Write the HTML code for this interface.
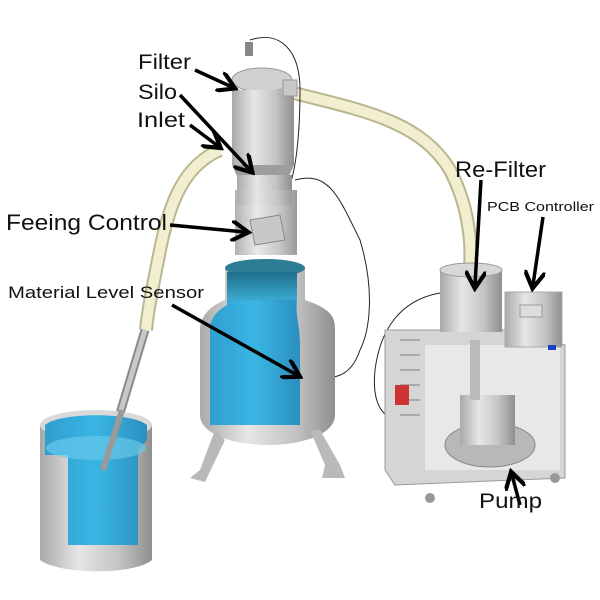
<!DOCTYPE html>
<html><head><meta charset="utf-8"><style>
html,body{margin:0;padding:0;background:#fff;}
svg{display:block;}
text{font-family:"Liberation Sans",sans-serif;fill:#111;}
</style></head><body>
<svg width="600" height="600" viewBox="0 0 600 600" xmlns="http://www.w3.org/2000/svg">
<defs>
<linearGradient id="metal" x1="0" x2="1" y1="0" y2="0">
<stop offset="0" stop-color="#a9a9a9"/><stop offset="0.35" stop-color="#e6e6e6"/><stop offset="0.7" stop-color="#c4c4c4"/><stop offset="1" stop-color="#8f8f8f"/></linearGradient>
<linearGradient id="blue" x1="0" x2="1" y1="0" y2="0">
<stop offset="0" stop-color="#2f9fd0"/><stop offset="0.5" stop-color="#3bb6e4"/><stop offset="1" stop-color="#2a8fbf"/></linearGradient>
<linearGradient id="bluev" x1="0" x2="0" y1="0" y2="1">
<stop offset="0" stop-color="#1f6f8a"/><stop offset="1" stop-color="#3aa9cf"/></linearGradient>
<marker id="ah" markerWidth="6" markerHeight="6" refX="4" refY="3" orient="auto" markerUnits="strokeWidth">
<path d="M0,0 L5,3 L0,6" fill="none" stroke="#000" stroke-width="1.2"/></marker>
</defs>

<path d="M290,92 C360,110 420,120 450,170 C468,205 472,240 470,268" fill="none" stroke="#b9b690" stroke-width="14"/>
<path d="M290,92 C360,110 420,120 450,170 C468,205 472,240 470,268" fill="none" stroke="#f1efcf" stroke-width="10"/>
<path d="M220,150 C185,165 170,200 160,250 C152,290 148,310 146,330" fill="none" stroke="#b9b690" stroke-width="14"/>
<path d="M220,150 C185,165 170,200 160,250 C152,290 148,310 146,330" fill="none" stroke="#f1efcf" stroke-width="10"/>
<line x1="145" y1="330" x2="103" y2="470" stroke="#8a8a8a" stroke-width="9"/>
<line x1="145" y1="330" x2="103" y2="470" stroke="#c8c8c8" stroke-width="5"/>

<path d="M295,180 C330,170 340,200 360,240 C375,290 370,330 360,350 C350,380 330,380 310,375" fill="none" stroke="#222" stroke-width="1"/>
<path d="M250,40 C280,30 300,50 300,90 C300,140 295,170 290,185" fill="none" stroke="#222" stroke-width="1"/>
<path d="M440,293 C400,300 380,330 375,370 C372,400 380,415 395,420" fill="none" stroke="#222" stroke-width="1"/>

<rect x="245" y="42" width="8" height="14" fill="#888"/>
<ellipse cx="262" cy="80" rx="30" ry="12" fill="#d0d0d0" stroke="#999"/>
<rect x="232" y="90" width="62" height="75" fill="url(#metal)"/>
<path d="M232,165 L294,165 L285,185 L241,185 Z" fill="#9d9d9d"/>
<rect x="237" y="175" width="55" height="30" fill="url(#metal)"/>
<rect x="235" y="190" width="62" height="65" fill="url(#metal)" opacity="0.9"/>
<path d="M250,220 L280,215 L285,240 L255,245 Z" fill="#c8c8c8" stroke="#888"/>
<rect x="283" y="80" width="14" height="16" fill="#c8c8c8" stroke="#999"/>

<path d="M225,268 L305,268 L305,300 C335,310 335,320 335,330 L335,415 C335,435 300,445 268,445 C236,445 200,435 200,415 L200,330 C200,315 212,305 225,300 Z" fill="url(#metal)"/>
<ellipse cx="265" cy="268" rx="40" ry="9" fill="#2d7d96"/>
<path d="M227,272 L227,305 C215,312 210,320 210,330 L210,425 L300,425 L300,345 C300,325 295,315 297,300 L297,272 Z" fill="url(#blue)"/>
<path d="M227,272 L297,272 L297,300 L227,300 Z" fill="url(#bluev)"/>
<path d="M215,430 L200,470 L190,478 L205,482 L225,440 Z" fill="#b9b9b9"/>
<path d="M310,430 L325,465 L322,478 L345,478 L340,465 L320,430 Z" fill="#b9b9b9"/>

<path d="M40,425 L40,560 C60,575 135,575 152,560 L152,425 Z" fill="url(#metal)"/>
<ellipse cx="96" cy="425" rx="56" ry="15" fill="#d9d9d9"/>
<path d="M45,425 C60,412 132,412 147,425 L147,440 L138,450 L138,545 L68,545 L68,455 L45,455 Z" fill="url(#blue)"/>
<ellipse cx="96" cy="448" rx="50" ry="12" fill="#67c8ea" opacity="0.7"/>
<line x1="122" y1="410" x2="103" y2="470" stroke="#9a9a9a" stroke-width="6"/>

<path d="M385,330 L520,330 L565,345 L565,478 L395,485 L385,470 Z" fill="#d5d5d5" stroke="#999"/>
<rect x="425" y="345" width="135" height="125" fill="#e8e8e8"/>
<g stroke="#aaa" stroke-width="2">
<line x1="400" y1="340" x2="420" y2="340"/><line x1="400" y1="355" x2="420" y2="355"/><line x1="400" y1="370" x2="420" y2="370"/><line x1="400" y1="385" x2="420" y2="385"/><line x1="400" y1="400" x2="420" y2="400"/><line x1="400" y1="415" x2="420" y2="415"/></g>
<ellipse cx="490" cy="445" rx="45" ry="22" fill="#b8b8b8" stroke="#888"/>
<rect x="460" y="395" width="55" height="50" fill="url(#metal)"/>
<rect x="470" y="340" width="10" height="60" fill="#bbb"/>
<rect x="505" y="292" width="57" height="55" fill="url(#metal)" stroke="#aaa"/>
<rect x="520" y="305" width="22" height="12" fill="#ddd" stroke="#999"/>
<rect x="548" y="345" width="8" height="5" fill="#1a3fc0"/>
<rect x="440" y="270" width="62" height="62" fill="url(#metal)"/>
<ellipse cx="471" cy="270" rx="31" ry="7" fill="#d8d8d8" stroke="#999"/>
<rect x="395" y="385" width="14" height="20" fill="#c33"/>
<circle cx="430" cy="498" r="5" fill="#999"/><circle cx="555" cy="478" r="5" fill="#999"/>

<g stroke="#000" stroke-width="3.5" fill="none" marker-end="url(#ah)">
<line x1="195" y1="70" x2="232" y2="87"/>
<line x1="180" y1="95" x2="250" y2="170"/>
<line x1="190" y1="125" x2="218" y2="146"/>
<line x1="170" y1="225" x2="245" y2="232"/>
<line x1="172" y1="305" x2="297" y2="375"/>
<line x1="481" y1="180" x2="475" y2="285"/>
<line x1="543" y1="217" x2="533" y2="285"/>
<line x1="520" y1="505" x2="512" y2="475"/>
</g>

<text x="138" y="69" font-size="21" textLength="53" lengthAdjust="spacingAndGlyphs">Filter</text>
<text x="138" y="99" font-size="21" textLength="39" lengthAdjust="spacingAndGlyphs">Silo</text>
<text x="137" y="127" font-size="21" textLength="48" lengthAdjust="spacingAndGlyphs">Inlet</text>
<text x="6" y="230" font-size="22" textLength="161" lengthAdjust="spacingAndGlyphs">Feeing Control</text>
<text x="8" y="298" font-size="17" textLength="196" lengthAdjust="spacingAndGlyphs">Material Level Sensor</text>
<text x="455" y="177" font-size="22" textLength="91" lengthAdjust="spacingAndGlyphs">Re-Filter</text>
<text x="487" y="211" font-size="13" textLength="107" lengthAdjust="spacingAndGlyphs">PCB Controller</text>
<text x="479" y="508" font-size="21" textLength="63" lengthAdjust="spacingAndGlyphs">Pump</text>
</svg>
</body></html>
